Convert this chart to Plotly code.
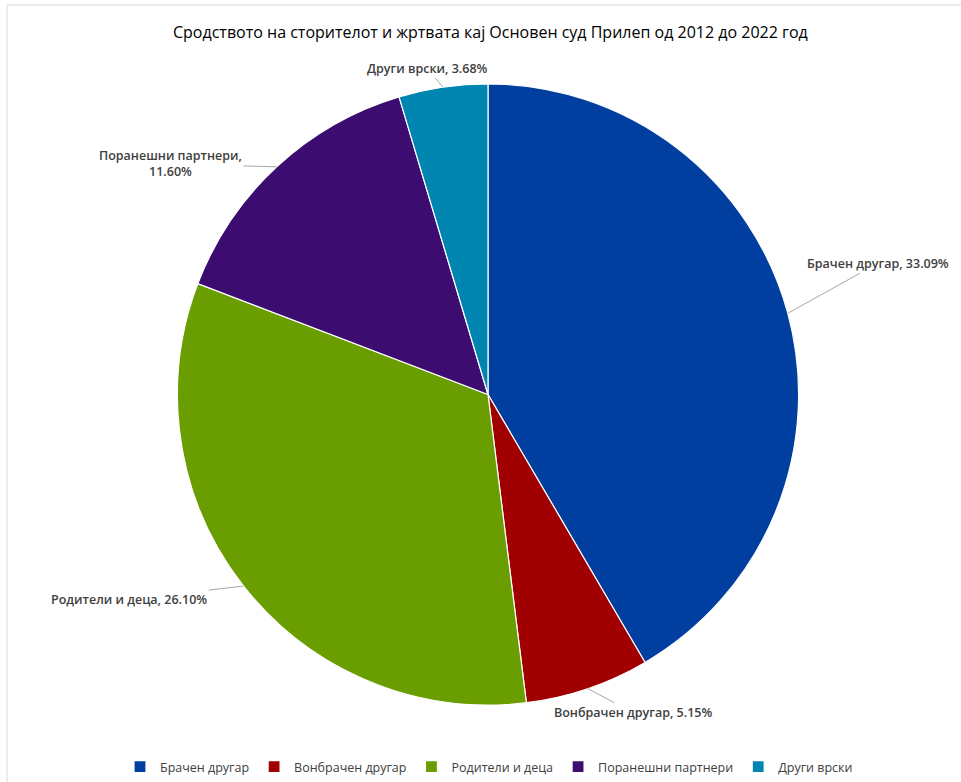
import math
import plotly.graph_objects as go

categories = ["Брачен другар", "Вонбрачен другар", "Родители и деца", "Поранешни партнери", "Други врски"]
values = [33.09, 5.15, 26.10, 11.60, 3.68]
label_texts = ["Брачен другар, 33.09%", "Вонбрачен другар, 5.15%", "Родители и деца, 26.10%",
               "Поранешни партнери,<br>11.60%", "Други врски, 3.68%"]
colors = ["#003FA0", "#A00000", "#6A9E00", "#3C0C70", "#0085B0"]

W, H = 961, 782
cx, cy, R = 488, 395, 311
# label offsets in pixels (tail of leader line relative to slice edge)
offsets = [(90, -50), (45, 24), (-114, 13), (-106, -3), (-16, -19)]

fig = go.Figure(go.Pie(
    labels=categories, values=values, sort=False, direction="clockwise", rotation=0,
    marker=dict(colors=colors, line=dict(color="white", width=1.2)),
    textinfo="none", hoverinfo="label+value",
    domain=dict(x=[(cx - R) / W, (cx + R) / W], y=[1 - (cy + R) / H, 1 - (cy - R) / H]),
))

total = sum(values)
cum = 0.0
annotations = []
for v, t, (ox, oy) in zip(values, label_texts, offsets):
    mid = (cum + v / 2) / total * 2 * math.pi
    cum += v
    px = cx + R * math.sin(mid)
    py = cy - R * math.cos(mid)
    annotations.append(dict(
        x=px / W, y=1 - py / H, xref="paper", yref="paper",
        text=t, showarrow=True, arrowhead=0, arrowwidth=1, arrowcolor="#A6A6A6",
        ax=ox, ay=oy, font=dict(family="Open Sans", size=12.5, color="#404040", weight=600),
        align="center",
    ))

annotations.append(dict(
    x=490 / W, y=1 - 32 / H, xref="paper", yref="paper", showarrow=False,
    text="Сродството на сторителот и жртвата кај Основен суд Прилеп од 2012 до 2022 год",
    font=dict(family="Open Sans", size=16, color="#000000"), xanchor="center", yanchor="middle",
))

fig.update_layout(
    width=W, height=H, margin=dict(l=0, r=0, t=0, b=0),
    paper_bgcolor="white", plot_bgcolor="white",
    showlegend=True,
    legend=dict(orientation="h", x=489 / W, xanchor="center", y=1 - 768 / H, yanchor="middle",
                font=dict(family="Open Sans", size=12.5, color="#404040"),
                itemwidth=30, tracegroupgap=0),
    annotations=annotations,
    shapes=[dict(type="line", xref="paper", yref="paper", x0=7 / W, x1=1.2, y0=1 - 5 / H, y1=1 - 5 / H,
                 line=dict(color="#D9D9D9", width=1)),
            dict(type="line", xref="paper", yref="paper", x0=7 / W, x1=7 / W, y0=1 - 5 / H, y1=-0.2,
                 line=dict(color="#D9D9D9", width=1))],
)

fig.write_html("out.html", config={"displayModeBar": False},
               post_script="document.body.style.margin='0px';")
